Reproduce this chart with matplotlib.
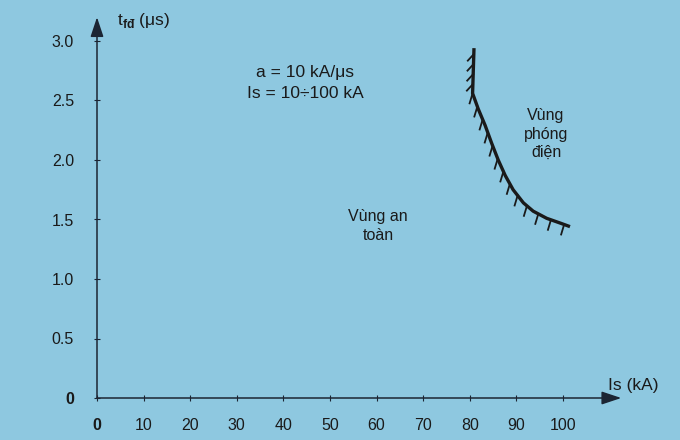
import numpy as np
import matplotlib
matplotlib.use("Agg")
import matplotlib.pyplot as plt
from matplotlib.patches import FancyArrowPatch

plt.rcParams['font.family'] = ['Liberation Sans', 'DejaVu Sans']
plt.rcParams['mathtext.fontset'] = 'custom'
plt.rcParams['mathtext.rm'] = 'Liberation Sans'
plt.rcParams['mathtext.bf'] = 'Liberation Sans:bold'

# ---- data ----
x_ticks = [0, 10, 20, 30, 40, 50, 60, 70, 80, 90, 100]
y_ticks = [0, 0.5, 1.0, 1.5, 2.0, 2.5, 3.0]
y_tick_labels = ["0", "0.5", "1.0", "1.5", "2.0", "2.5", "3.0"]
boundary_is = [80.9, 80.6, 81.8, 83.3, 84.7, 86.1, 87.6, 89.3, 91.5, 93.6, 96.5, 99.4, 101.5]  # kA
boundary_t = [2.94, 2.56, 2.43, 2.29, 2.14, 2.00, 1.87, 1.75, 1.64, 1.57, 1.51, 1.47, 1.44]     # us

BG = '#8ec8e0'
INK = '#1a1a1a'
AX = '#1c2533'

fig = plt.figure(figsize=(6.8, 4.4), dpi=100, facecolor=BG)
ax = fig.add_axes([97/680, 42/440, 524.25/680, 380.8/440])
ax.set_facecolor(BG)
ax.set_xlim(0, 112.5)
ax.set_ylim(0, 3.2)
for s in ax.spines.values():
    s.set_visible(False)

# axes with arrows
for (x0, y0, x1, y1) in [(0, 0, 112.5, 0), (0, 0, 0, 3.2)]:
    ax.add_patch(FancyArrowPatch((x0, y0), (x1, y1), transform=ax.transData,
                                 arrowstyle='-|>,head_length=1.2,head_width=0.4',
                                 mutation_scale=10, color=AX, lw=1.1,
                                 shrinkA=0, shrinkB=0, clip_on=False, zorder=3))

ax.set_xticks(x_ticks)
ax.set_xticklabels([str(v) for v in x_ticks])
ax.set_yticks(y_ticks)
ax.set_yticklabels(y_tick_labels)
ax.tick_params(axis='x', direction='inout', length=5, width=0.8, color=AX,
               pad=12, labelsize=11.5, labelcolor=INK)
ax.tick_params(axis='y', direction='inout', length=5, width=0.8, color=AX,
               pad=14, labelsize=11.5, labelcolor=INK)
ax.get_xticklabels()[0].set_fontweight('bold')
ax.get_yticklabels()[0].set_fontweight('bold')

# boundary curve
ax.plot(boundary_is, boundary_t, color=INK, lw=2.4, solid_capstyle='butt',
        solid_joinstyle='round', clip_on=False, zorder=4)

# hatches along the curve (computed in display space)
fig.canvas.draw()
pts = ax.transData.transform(np.column_stack([boundary_is, boundary_t]))
seg = np.hypot(*np.diff(pts, axis=0).T)
cum = np.concatenate([[0], np.cumsum(seg)])
kink_len = cum[1]
positions = list(np.arange(6, kink_len - 2, 10)) + list(np.arange(kink_len, cum[-1] + 0.1, 14.0))
inv = ax.transData.inverted()
for p in positions:
    px = np.interp(p, cum, pts[:, 0])
    py = np.interp(p, cum, pts[:, 1])
    d = np.array([-6.0, -6.5]) if p < kink_len - 1 else np.array([-3.0, -10.0])
    a = inv.transform([[px, py], [px + d[0], py + d[1]]])
    ax.plot(a[:, 0], a[:, 1], color=INK, lw=1.3, clip_on=False, zorder=4)

# texts
fig.text(546/680, 1 - 134/440, 'Vùng\nphóng\nđiện', ha='center', va='center',
         fontsize=11.5, color=INK, linespacing=1.3)
fig.text(378/680, 1 - 226/440, 'Vùng an\ntoàn', ha='center', va='center',
         fontsize=11.5, color=INK, linespacing=1.3)
fig.text(305/680, 1 - 72/440, 'a = 10 kA/μs', ha='center', va='center',
         fontsize=12.5, color=INK)
fig.text(305/680, 1 - 94/440, 'Is = 10÷100 kA', ha='center', va='center',
         fontsize=12.5, color=INK)
fig.text(608/680, 1 - 385/440, 'Is (kA)', ha='left', va='center',
         fontsize=12.5, color=INK)
fig.text(117/680, 1 - 21/440, r't$_{\mathbf{fđ}}$ (μs)', ha='left', va='center',
         fontsize=12.5, color=INK)

fig.savefig('out.png', dpi=100, facecolor=BG)
